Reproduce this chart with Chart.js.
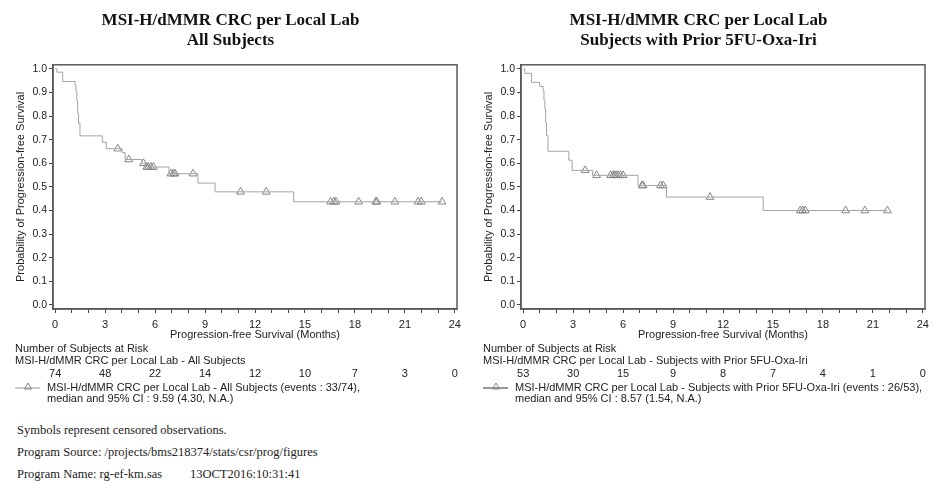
<!DOCTYPE html>
<html>
<head>
<meta charset="utf-8">
<script src="https://cdn.jsdelivr.net/npm/chart.js@4/dist/chart.umd.min.js"></script>
<style>
  body { margin: 0; background: #fff; width: 934px; height: 485px; position: relative; overflow: hidden; }
  canvas { position: absolute; top: 0; }
  #kmLeft { left: 0; }
  #kmRight { left: 468px; }
  .foot { position: absolute; left: 17px; font: 12.5px "Liberation Serif", "Times New Roman", serif; color: #222; white-space: pre; }
</style>
</head>
<body>
<canvas id="kmLeft" width="466" height="412"></canvas>
<canvas id="kmRight" width="466" height="412"></canvas>
<div class="foot" style="top:423px">Symbols represent censored observations.</div>
<div class="foot" style="top:445px">Program Source: /projects/bms218374/stats/csr/prog/figures</div>
<div class="foot" style="top:467px">Program Name: rg-ef-km.sas<span style="position:absolute;left:173px">13OCT2016:10:31:41</span></div>
<script>
// axis ticks
const xTickValues = [0, 1, 2, 3, 4, 5, 6, 7, 8, 9, 10, 11, 12, 13, 14, 15, 16, 17, 18, 19, 20, 21, 22, 23, 24];
const xTickLabels = [0, 3, 6, 9, 12, 15, 18, 21, 24];
const yTickValues = [0, 0.1, 0.2, 0.3, 0.4, 0.5, 0.6, 0.7, 0.8, 0.9, 1.0];
const riskTimes = [0, 3, 6, 9, 12, 15, 18, 21, 24];

// All Subjects - KM steps (months, survival)
const allTimes = [0, 0.1, 0.45, 1.19, 1.25, 1.3, 1.35, 1.4, 1.49, 2.83, 3.07, 4.02, 4.2, 5.2, 5.4, 6.83, 8.57, 9.6, 14.32, 23.23];
const allSurv  = [1.0, 0.986, 0.946, 0.932, 0.905, 0.865, 0.811, 0.77, 0.716, 0.689, 0.662, 0.645, 0.616, 0.6, 0.584, 0.556, 0.516, 0.479, 0.437, 0.437];
const allCensTimes = [3.76, 4.42, 5.3, 5.5, 5.6, 5.75, 5.9, 6.95, 7.1, 7.2, 8.28, 11.13, 12.67, 16.54, 16.74, 16.87, 18.22, 19.25, 19.32, 20.4, 21.79, 21.98, 23.23];
const allCensSurv  = [0.662, 0.616, 0.6, 0.584, 0.584, 0.584, 0.584, 0.556, 0.556, 0.556, 0.556, 0.479, 0.479, 0.437, 0.437, 0.437, 0.437, 0.437, 0.437, 0.437, 0.437, 0.437, 0.437];
const allAtRisk = [74, 48, 22, 14, 12, 10, 7, 3, 0];

// Subjects with Prior 5FU-Oxa-Iri
const priorTimes = [0, 0.1, 0.5, 0.99, 1.2, 1.25, 1.3, 1.35, 1.4, 1.49, 2.74, 2.94, 4.17, 6.9, 8.6, 14.41, 21.87];
const priorSurv  = [1.0, 0.981, 0.943, 0.925, 0.906, 0.868, 0.83, 0.774, 0.717, 0.651, 0.613, 0.57, 0.549, 0.506, 0.457, 0.4, 0.4];
const priorCensTimes = [3.72, 4.41, 5.25, 5.4, 5.5, 5.6, 5.7, 5.85, 6.0, 7.14, 7.2, 8.25, 8.41, 11.22, 16.64, 16.78, 16.94, 19.36, 20.52, 21.87];
const priorCensSurv  = [0.57, 0.549, 0.549, 0.549, 0.549, 0.549, 0.549, 0.549, 0.549, 0.506, 0.506, 0.506, 0.506, 0.457, 0.4, 0.4, 0.4, 0.4, 0.4, 0.4];
const priorAtRisk = [53, 30, 15, 9, 8, 7, 4, 1, 0];

Chart.defaults.font.family = '"Liberation Sans", Arial, sans-serif';
Chart.defaults.font.size = 11;
Chart.defaults.color = '#222';

const FRAME = '#5a5a5a';
const CURVE = '#a3a3a3';
const MARK = '#858585';

// box around the plot area
const framePlugin = {
  id: 'frame',
  afterDatasetsDraw(chart) {
    const a = chart.chartArea;
    const ctx = chart.ctx;
    ctx.save();
    ctx.strokeStyle = FRAME;
    ctx.lineWidth = 1.5;
    ctx.strokeRect(a.left, a.top, a.right - a.left, a.bottom - a.top);
    ctx.restore();
  }
};

// number at risk table + legend under the x axis
const riskTablePlugin = {
  id: 'riskTable',
  afterDraw(chart, args, opts) {
    const { ctx, chartArea, scales } = chart;
    const base = chartArea.bottom;
    const x0 = 15;
    ctx.save();
    ctx.font = '11px "Liberation Sans", Arial, sans-serif';
    ctx.fillStyle = '#222';
    ctx.textBaseline = 'middle';
    ctx.textAlign = 'left';
    ctx.fillText('Number of Subjects at Risk', x0, base + 40);
    ctx.fillText(opts.group, x0, base + 52);
    ctx.textAlign = 'center';
    riskTimes.forEach((t, i) => {
      ctx.fillText(String(opts.counts[i]), scales.x.getPixelForValue(t), base + 65);
    });
    // legend entry
    const ly = base + 79;
    ctx.strokeStyle = opts.legendLine;
    ctx.lineWidth = 1;
    ctx.beginPath();
    ctx.moveTo(x0, ly);
    ctx.lineTo(x0 + 25, ly);
    ctx.stroke();
    ctx.strokeStyle = MARK;
    ctx.fillStyle = 'rgba(255,255,255,0)';
    Chart.helpers.drawPoint(ctx, { pointStyle: 'triangle', radius: 4, borderWidth: 1 }, x0 + 13, ly - 1);
    ctx.fillStyle = '#222';
    ctx.textAlign = 'left';
    ctx.fillText(opts.legend[0], x0 + 32, ly);
    ctx.fillText(opts.legend[1], x0 + 32, ly + 11);
    ctx.restore();
  }
};

function toPoints(xs, ys) {
  return xs.map((t, i) => ({ x: t, y: ys[i] }));
}

function makeKm(id, titleLines, times, surv, censT, censS, counts, group, legend, legendLine) {
  new Chart(document.getElementById(id), {
    type: 'scatter',
    data: {
      datasets: [
        {
          data: toPoints(times, surv),
          showLine: true,
          stepped: true,
          borderColor: CURVE,
          borderWidth: 1,
          pointRadius: 0,
          fill: false
        },
        {
          data: toPoints(censT, censS),
          showLine: false,
          pointStyle: 'triangle',
          pointRadius: 4.5,
          borderColor: MARK,
          backgroundColor: 'rgba(255,255,255,0)',
          borderWidth: 1
        }
      ]
    },
    options: {
      responsive: false,
      animation: false,
      layout: { padding: { left: 0, right: 5, top: 0, bottom: 70 } },
      plugins: {
        legend: { display: false },
        tooltip: { enabled: false },
        title: {
          display: true,
          text: titleLines,
          color: '#111',
          font: { family: '"Liberation Serif", "Times New Roman", serif', size: 17, weight: 'bold', lineHeight: 1.2 },
          padding: { top: 10, bottom: 14 }
        },
        riskTable: { counts: counts, group: group, legend: legend, legendLine: legendLine }
      },
      scales: {
        x: {
          type: 'linear',
          min: -0.13,
          max: 24.13,
          afterBuildTicks: s => { s.ticks = xTickValues.map(v => ({ value: v })); },
          afterFit: s => { s.height = 33; },
          ticks: {
            autoSkip: false,
            maxRotation: 0,
            padding: 5,
            callback: v => (xTickLabels.includes(v) ? String(v) : '')
          },
          grid: { drawOnChartArea: false, tickLength: 4, color: '#444' },
          border: { color: FRAME, width: 1.5 },
          title: { display: true, text: 'Progression-free Survival (Months)', padding: { top: 0, bottom: 0 } }
        },
        y: {
          min: -0.017,
          max: 1.017,
          afterBuildTicks: s => { s.ticks = yTickValues.map(v => ({ value: v })); },
          afterFit: s => { s.width = 53; },
          ticks: { padding: 2, font: { size: 10.5 }, callback: v => v.toFixed(1) },
          grid: { drawOnChartArea: false, tickLength: 4, color: '#444' },
          border: { color: FRAME, width: 1.5 },
          title: { display: true, text: 'Probability of Progression-free Survival', padding: { top: 14, bottom: 0 } }
        }
      }
    },
    plugins: [framePlugin, riskTablePlugin]
  });
}

makeKm('kmLeft',
  ['MSI-H/dMMR CRC per Local Lab', 'All Subjects'],
  allTimes, allSurv, allCensTimes, allCensSurv, allAtRisk,
  'MSI-H/dMMR CRC per Local Lab - All Subjects',
  ['MSI-H/dMMR CRC per Local Lab - All Subjects (events : 33/74),', 'median and 95% CI : 9.59 (4.30, N.A.)'],
  '#9c9c9c');

makeKm('kmRight',
  ['MSI-H/dMMR CRC per Local Lab', 'Subjects with Prior 5FU-Oxa-Iri'],
  priorTimes, priorSurv, priorCensTimes, priorCensSurv, priorAtRisk,
  'MSI-H/dMMR CRC per Local Lab - Subjects with Prior 5FU-Oxa-Iri',
  ['MSI-H/dMMR CRC per Local Lab - Subjects with Prior 5FU-Oxa-Iri (events : 26/53),', 'median and 95% CI : 8.57 (1.54, N.A.)'],
  '#333');
</script>
</body>
</html>
